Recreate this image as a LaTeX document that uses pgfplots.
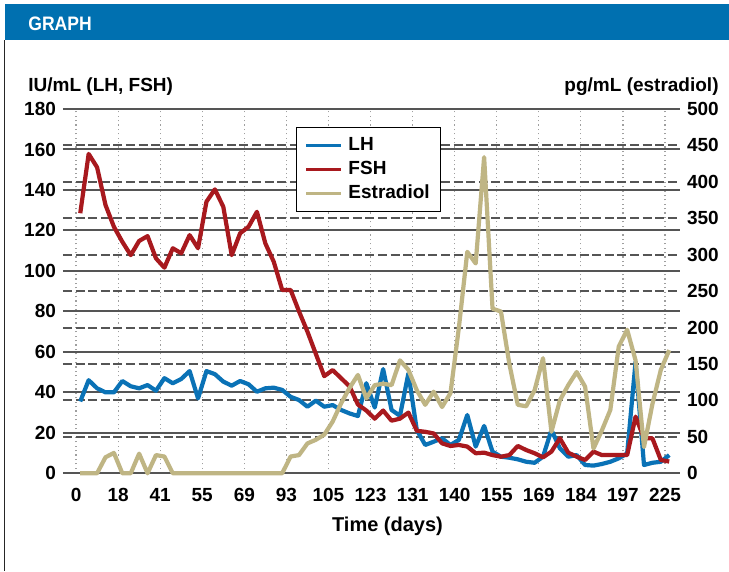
\documentclass[border=0pt]{standalone}
\usepackage{fontspec}
\setmainfont{Liberation Sans}
\usepackage{pgfplots}
\usepackage{pgfplotstable}
\pgfplotsset{compat=1.18}
\definecolor{hdrblue}{HTML}{0070B0}
\definecolor{lhcol}{HTML}{0A72B6}
\definecolor{fshcol}{HTML}{A8191E}
\definecolor{e2col}{HTML}{BFB584}
\definecolor{gridgray}{HTML}{555555}

\pgfplotstableread{
i  lh    fsh    e2
0  35.5  128.5  0
1  46    157.8  0
2  42    151.2  0
3  40    132.6  22
4  40    121.8  28
5  45.6  114.4  0
6  43    107.8  0
7  42    114.8  27
8  43.6  117.2  0
9  40.8  106.2  25
10 47    101.6  23
11 44.5  111.2  0
12 46.6  108.7  0
13 50.5  117.7  0
14 37    111.2  0
15 50.5  134.2  0
16 49    140.3  0
17 45.3  131.7  0
18 43.3  107.8  0
19 45.6  118.6  0
20 44    121.8  0
21 40.3  129.2  0
22 42    113.6  0
23 42.3  104.5  0
24 41.2  90.6   0
25 37.8  90.6   23
26 36.2  80     25
27 32.9  70     41
28 35.9  59     46
29 32.9  48     53
30 33.7  51     71
31 31.3  47     96
32 29.6  43     117
33 28.3  34     135
34 44.5  31     103
35 32.5  27     121
36 51.5  31     123
37 31.3  26     121
38 28.4  27     155
39 49.4  30     142
40 21.4  21     114
41 14    20.5   94
42 15.6  19.7   112
43 17.3  14.8   91
44 14    13.5   110
45 16.5  14     200
46 28.8  13.2   304
47 13.2  9.9    288
48 23.4  10.2   434
49 10.7  9      226
50 8.2   8.2    222
51 7.7   9      150
52 6.9   13.5   94
53 5.7   11.5   92
54 5.2   9.9    114
55 8.2   7.9    158
56 21.4  10.7   57
57 12.4  17.3   100
58 8.2   10.2   121
59 9     8.2    139
60 4.1   6.6    119
61 3.8   10.7   34
62 4.6   9      59
63 5.7   9      87
64 7.4   9      174
65 9.8   9      197
66 55.1  28     155
67 4.1   17.3   36
68 5.2   17.3   95
69 5.7   6.6    142
70 9     5.8    169
}\datatable

\begin{document}
\begin{tikzpicture}[x=1pt,y=1pt]
\fill[white] (0,0) rectangle (364.5,-285.5);
\fill[hdrblue] (2.25,-2) rectangle (364.5,-20.25);
\node[anchor=base west, inner sep=0, text=white, font=\fontsize{9.75}{11}\selectfont\bfseries] at (14,-15.3) {\scalebox{0.9}[1]{GRAPH}};
\draw[line width=0.6pt, black!85] (2.25,-20.25) -- (2.25,-285.5);

\node[anchor=base west, inner sep=0, font=\fontsize{9.5}{11}\selectfont\bfseries] at (14,-46) {IU/mL (LH, FSH)};
\node[anchor=base east, inner sep=0, font=\fontsize{9.5}{11}\selectfont\bfseries] at (359.5,-46) {pg/mL (estradiol)};
\node[anchor=base, inner sep=0, font=\fontsize{10}{12}\selectfont\bfseries] at (193.75,-265.5) {Time (days)};

\begin{axis}[
  at={(31.5pt,-236.65pt)}, anchor=south west,
  scale only axis, width=308.5pt, height=182.15pt,
  xmin=-1.55, xmax=71.78, ymin=0, ymax=180,
  axis line style={draw=none},
  major tick length=0pt,
  xtick={0,5,...,70},
  xticklabels={0,18,41,55,69,93,105,123,131,140,155,169,184,197,225},
  ytick={0,20,...,180},
  yticklabels={0,20,40,60,80,100,120,140,160,180},
  tick label style={font=\fontsize{9.5}{11}\selectfont\bfseries},
  xticklabel style={yshift=-4pt},
  xmajorgrids, ymajorgrids,
  x grid style={draw=gray!75, line width=0.6pt, dash pattern=on 0.6pt off 1.6pt},
  y grid style={draw=gridgray, line width=1pt},
  extra y ticks={18,36,54,72,90,108,126,144,162},
  extra y tick labels={},
  extra y tick style={grid=major, major grid style={draw=gridgray, line width=1pt, dash pattern=on 4.5pt off 1.8pt}},
  clip=false,
]
\addplot[lhcol, line width=2.1pt, line join=round, mark=none] table[x expr=\thisrow{i}+0.5, y=lh] {\datatable};
\addplot[fshcol, line width=2.1pt, line join=round, mark=none] table[x expr=\thisrow{i}+0.5, y=fsh] {\datatable};
\end{axis}

\begin{axis}[
  at={(31.5pt,-236.65pt)}, anchor=south west,
  scale only axis, width=308.5pt, height=182.15pt,
  xmin=-1.55, xmax=71.78, ymin=0, ymax=500,
  axis y line*=right, axis x line=none,
  axis line style={draw=none},
  major tick length=0pt,
  ytick={0,50,...,500},
  yticklabels={0,50,100,150,200,250,300,350,400,450,500},
  tick label style={font=\fontsize{9.5}{11}\selectfont\bfseries},
  clip=false,
  legend image code/.code={\draw[#1, line width=1.4pt] (0pt,0pt) -- (17.5pt,0pt);},
  legend cell align=left,
  legend style={at={(axis description cs:0.3776,0.9514)}, anchor=north west,
    draw=black, line width=0.7pt, fill=white, inner xsep=4pt, inner ysep=3pt,
    row sep=0pt, column sep=1.5pt,
    font=\fontsize{9.5}{11}\selectfont\bfseries,
    nodes={inner sep=1.5pt, text height=7pt, text depth=2pt}},
]
\addlegendimage{lhcol}
\addlegendentry{LH}
\addlegendimage{fshcol}
\addlegendentry{FSH}
\addplot[e2col, line width=2.1pt, line join=round, mark=none] table[x expr=\thisrow{i}+0.5, y=e2] {\datatable};
\addlegendentry{Estradiol}
\end{axis}
\end{tikzpicture}
\end{document}
